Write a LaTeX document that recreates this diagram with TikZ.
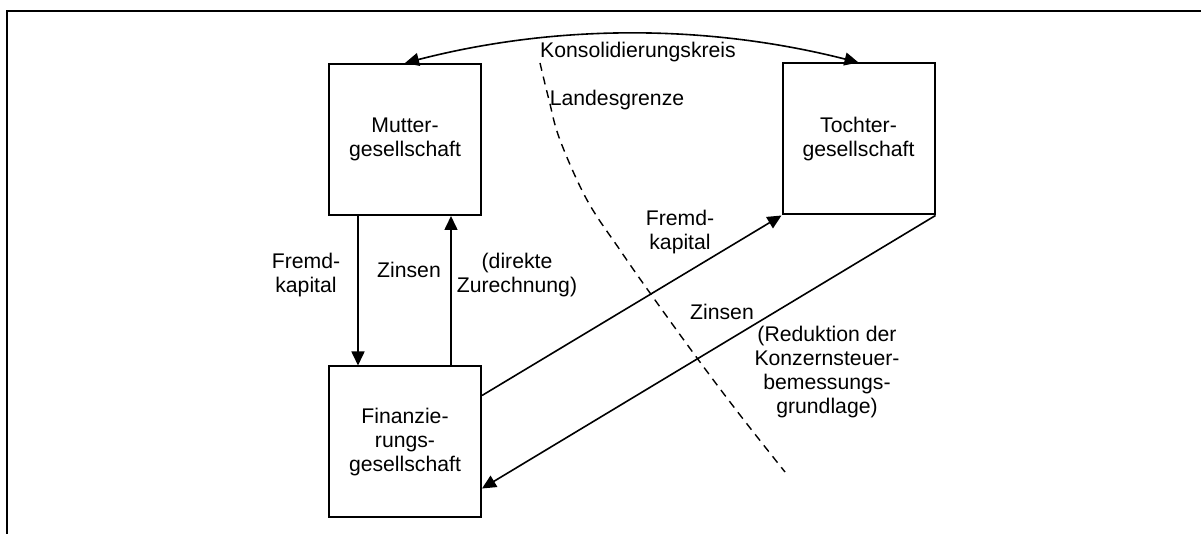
\documentclass[tikz,border=0pt]{standalone}
\usepackage{fontspec}
\setmainfont{Liberation Sans}
\usetikzlibrary{arrows.meta,calc}
\newcommand\diafont{\fontsize{10.6pt}{12pt}\selectfont}
\begin{document}
\begin{tikzpicture}[x=0.5pt,y=-0.5pt,
  box/.style={draw,line width=1pt,minimum width=76pt,minimum height=75.5pt,inner sep=0pt,align=center,font=\diafont},
  lab/.style={inner sep=0pt,align=center,font=\diafont},
  tip/.style={Triangle[length=7pt,width=6.5pt]},
  arr/.style={line width=0.8pt,-{Triangle[length=7pt,width=6.5pt]}},
  darr/.style={line width=0.8pt,{Triangle[length=7pt,width=6.5pt]}-{Triangle[length=7pt,width=6.5pt]}},
  border/.style={line width=1.1pt},
  grenze/.style={line width=0.7pt,dash pattern=on 4pt off 3pt}
]
\useasboundingbox (0,0) rectangle (1201,534);
% frame
\draw[border] (1201,11) -- (7,11) -- (7,534);

% boxes
\node[box] (M) at (405,139.5) {Mutter-\\gesellschaft};
\node[box] (T) at (858.5,139) {Tochter-\\gesellschaft};
\node[box] (F) at (405,442) {Finanzie-\\rungs-\\gesellschaft};

% arrows
\draw[arr] ([xshift=15pt]M.south west) -- ([xshift=15pt]F.north west);
\draw[arr] ([xshift=-15.5pt]F.north east) -- ([xshift=-15.5pt]M.south east);
\draw[arr] ([yshift=-15pt]F.north east) -- (T.south west);
\draw[arr] (T.south east) -- ([yshift=15pt]F.south east);
\draw[darr] (M.north) .. controls (556,24) and (707,24) .. (T.north);

% border line
\draw[grenze] plot[smooth,tension=0.6] coordinates {(540,63) (549,100) (560,140) (587,200) (620,250) (650,293) (697,358) (740,415) (785,472)};

% labels
\node[lab] (lk) at (638,52) {Konsolidierungskreis};
\node[lab] (ll) at (617,100) {Landesgrenze};
\node[lab] (lf1) at (306,275) {Fremd-\\kapital};
\node[lab] (lz1) at (409,270) {Zinsen};
\node[lab] (ld) at (517,275) {(direkte\\Zurechnung)};
\node[lab] (lf2) at (680,232) {Fremd-\\kapital};
\node[lab] (lz2) at (722,312) {Zinsen};
\node[lab] (lr) at (827,372) {(Reduktion der\\Konzernsteuer-\\bemessungs-\\grundlage)};
\end{tikzpicture}
\end{document}
